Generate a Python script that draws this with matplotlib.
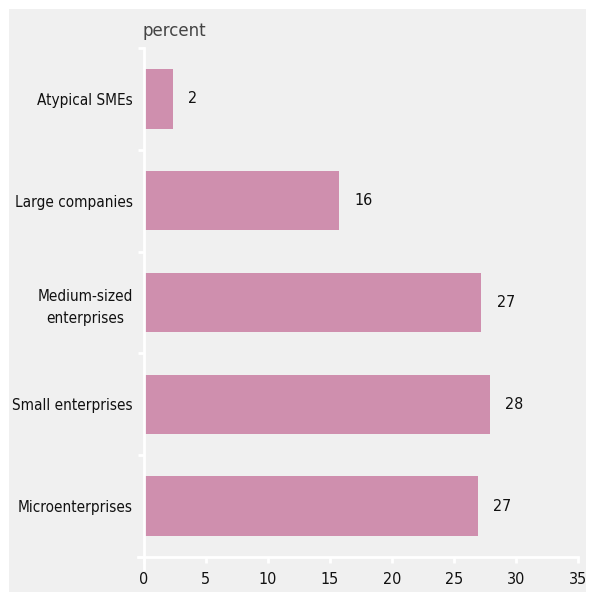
import matplotlib.pyplot as plt
from matplotlib.patches import Rectangle
from matplotlib.ticker import FixedLocator

# Share of companies by size category (percent)
categories = ['Atypical SMEs', 'Large companies', 'Medium-sized\nenterprises',
              'Small enterprises', 'Microenterprises']
values = [2.3, 15.7, 27.2, 27.9, 26.9]
value_labels = ['2', '16', '27', '28', '27']
x_ticks = [0, 5, 10, 15, 20, 25, 30, 35]

BAR_COLOR = '#cf8fae'
BG_COLOR = '#f0f0f0'
TEXT_COLOR = '#111111'

plt.rcParams['font.family'] = ['DejaVu Sans']
plt.rcParams['font.stretch'] = 'condensed'

fig = plt.figure(figsize=(5.95, 6.01), dpi=100, facecolor='white')
# gray panel behind the chart, leaving a thin white margin
fig.patches.append(Rectangle((9 / 595, 9 / 601), 577 / 595, 583 / 601,
                             transform=fig.transFigure, facecolor=BG_COLOR,
                             edgecolor='none', zorder=-10))

ax = fig.add_axes([144 / 595, 1 - 557 / 601, 434 / 595, 509 / 601])
ax.patch.set_alpha(0)

y = list(range(len(categories)))
ax.barh(y, values, height=0.585, color=BAR_COLOR, zorder=2)

for yi, v, lab in zip(y, values, value_labels):
    ax.annotate(lab, (v, yi), xytext=(11, 0), textcoords='offset points',
                ha='left', va='center', fontsize=11.5, color=TEXT_COLOR)

ax.set_xlim(0, 35)
ax.set_ylim(len(categories) - 0.5, -0.5)

ax.set_xticks(x_ticks)
ax.set_yticks(y)
ax.set_yticklabels(categories)
ax.yaxis.set_minor_locator(FixedLocator([i - 0.5 for i in range(len(categories) + 1)]))

for side in ['top', 'right']:
    ax.spines[side].set_visible(False)
for side in ['left', 'bottom']:
    ax.spines[side].set_color('white')
    ax.spines[side].set_linewidth(2)
ax.spines['bottom'].set_bounds(-0.5, 35)
ax.spines['left'].set_bounds(-0.5, len(categories) - 0.5 + 0.12)

ax.tick_params(axis='x', length=4, width=2, color='white', labelsize=11.5,
               labelcolor=TEXT_COLOR, pad=7)
ax.tick_params(axis='y', which='major', length=0, labelsize=11,
               labelcolor=TEXT_COLOR, pad=8)
ax.tick_params(axis='y', which='minor', length=4, width=2, color='white')
for t in ax.get_yticklabels():
    t.set_multialignment('center')
    t.set_linespacing(1.55)

fig.text(142 / 595, 1 - 31 / 601, 'percent', ha='left', va='center',
         fontsize=12, color='#444444', stretch='normal')

fig.savefig('out.png', dpi=100, facecolor=fig.get_facecolor())
